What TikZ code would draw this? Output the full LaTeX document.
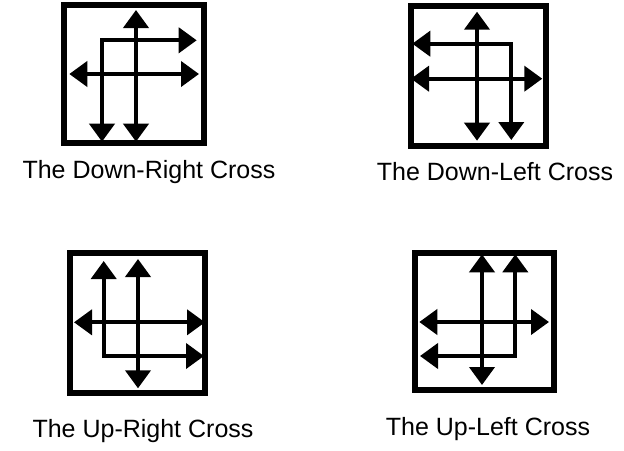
\documentclass[tikz,border=0pt]{standalone}
\usepackage{fontspec}
\setmainfont{Liberation Sans}
\usetikzlibrary{arrows.meta}

\begin{document}
\begin{tikzpicture}[x=1pt,y=-1pt,
  frame/.style={line width=6pt,black},
  dblarrow/.style={line width=4pt,black,
    {Triangle[width=25pt,length=18pt]}-{Triangle[width=25pt,length=18pt]}},
  caption/.style={anchor=base,font=\fontsize{25}{30}\selectfont}]
\useasboundingbox (0,0) rectangle (624,450);

% Down-Right cross
\coordinate (dr-nw) at (63.7,4.5);
\coordinate (dr-se) at (203.7,143);
\coordinate (dr-n) at (136,10);
\coordinate (dr-s) at (136,141.7);
\coordinate (dr-w) at (69.3,74);
\coordinate (dr-e) at (199,74);
\coordinate (dr-k) at (102,40.3);
\coordinate (dr-ke) at (196.7,40.3);
\coordinate (dr-ks) at (102,141.7);
\draw[frame] (dr-nw) rectangle (dr-se);
\draw[dblarrow] (dr-n) -- (dr-s);
\draw[dblarrow] (dr-w) -- (dr-e);
\draw[dblarrow] (dr-ke) -- (dr-k) -- (dr-ks);
\node[caption] (dr-label) at (149,178) {The Down-Right Cross};

% Down-Left cross
\coordinate (dl-nw) at (410.7,6.3);
\coordinate (dl-se) at (546,145.7);
\coordinate (dl-n) at (477,11.7);
\coordinate (dl-s) at (477,140.7);
\coordinate (dl-w) at (411,78.7);
\coordinate (dl-e) at (542.3,78.7);
\coordinate (dl-k) at (511.3,43.7);
\coordinate (dl-kw) at (412.3,43.7);
\coordinate (dl-ks) at (511.3,140);
\draw[frame] (dl-nw) rectangle (dl-se);
\draw[dblarrow] (dl-n) -- (dl-s);
\draw[dblarrow] (dl-w) -- (dl-e);
\draw[dblarrow] (dl-kw) -- (dl-k) -- (dl-ks);
\node[caption] (dl-label) at (495,180.5) {The Down-Left Cross};

% Up-Right cross
\coordinate (ur-nw) at (70.3,253);
\coordinate (ur-se) at (204.5,393.3);
\coordinate (ur-n) at (138,259);
\coordinate (ur-s) at (138,388.3);
\coordinate (ur-w) at (74,322.3);
\coordinate (ur-e) at (205,322.3);
\coordinate (ur-k) at (103.7,356);
\coordinate (ur-kn) at (103.7,261);
\coordinate (ur-ke) at (204,356);
\draw[frame] (ur-nw) rectangle (ur-se);
\draw[dblarrow] (ur-n) -- (ur-s);
\draw[dblarrow] (ur-w) -- (ur-e);
\draw[dblarrow] (ur-kn) -- (ur-k) -- (ur-ke);
\node[caption] (ur-label) at (143,437) {The Up-Right Cross};

% Up-Left cross
\coordinate (ul-nw) at (414.5,253);
\coordinate (ul-se) at (553.5,389.7);
\coordinate (ul-n) at (482,254.3);
\coordinate (ul-s) at (482,385);
\coordinate (ul-w) at (419.3,322);
\coordinate (ul-e) at (549,322);
\coordinate (ul-k) at (515.3,356);
\coordinate (ul-kn) at (515.3,254.3);
\coordinate (ul-kw) at (420,356);
\draw[frame] (ul-nw) rectangle (ul-se);
\draw[dblarrow] (ul-n) -- (ul-s);
\draw[dblarrow] (ul-w) -- (ul-e);
\draw[dblarrow] (ul-kn) -- (ul-k) -- (ul-kw);
\node[caption] (ul-label) at (488,435) {The Up-Left Cross};
\end{tikzpicture}
\end{document}
